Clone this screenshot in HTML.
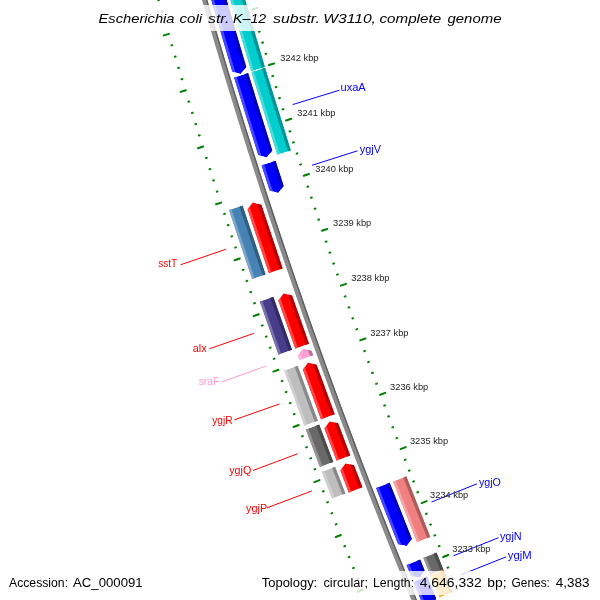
<!DOCTYPE html>
<html><head><meta charset="utf-8"><style>
html,body{margin:0;padding:0;background:#fff;width:600px;height:600px;overflow:hidden}
svg{display:block;will-change:transform;font-family:"Liberation Sans",sans-serif}
</style></head><body>
<svg width="600" height="600" viewBox="0 0 600 600">
<defs><clipPath id="c0"><polygon points="199.58,-40.03 232.14,71.39 240.67,74.02 246.30,67.10 213.83,-44.03"/></clipPath><clipPath id="c1"><polygon points="233.97,77.41 258.19,155.03 266.76,157.53 272.29,150.53 248.13,73.10"/></clipPath><clipPath id="c2"><polygon points="261.48,165.31 269.65,190.49 278.24,192.93 283.72,185.89 275.57,160.77"/></clipPath><clipPath id="c3"><polygon points="375.94,488.00 398.11,544.22 406.83,546.10 411.85,538.72 389.74,482.64"/></clipPath><clipPath id="c4"><polygon points="406.50,565.07 410.94,576.00 419.67,577.82 424.64,570.41 420.22,559.52"/></clipPath><clipPath id="c5"><polygon points="413.31,581.82 422.58,604.37 431.33,606.15 436.26,598.71 427.02,576.23"/></clipPath><clipPath id="c6"><polygon points="217.10,-44.96 251.12,71.26 264.90,67.06 230.96,-48.86"/></clipPath><clipPath id="c7"><polygon points="251.35,72.02 277.23,154.80 290.94,150.40 265.13,67.83"/></clipPath><clipPath id="c8"><polygon points="392.94,481.51 416.97,542.36 430.33,536.99 406.37,476.29"/></clipPath><clipPath id="c9"><polygon points="423.19,557.78 430.13,574.85 443.46,569.40 436.53,552.38"/></clipPath><clipPath id="c10"><polygon points="430.31,575.31 439.40,597.42 452.71,591.91 443.64,569.86"/></clipPath><clipPath id="c11"><polygon points="268.84,273.21 247.43,209.37 252.84,202.31 261.39,204.77 282.75,268.46"/></clipPath><clipPath id="c12"><polygon points="295.22,348.72 278.22,300.45 283.52,293.30 292.11,295.62 309.07,343.78"/></clipPath><clipPath id="c13"><polygon points="299.39,360.34 297.69,355.62 302.92,348.42 311.53,350.66 313.22,355.37"/></clipPath><clipPath id="c14"><polygon points="321.00,419.44 302.79,369.78 308.00,362.57 316.62,364.79 334.78,414.32"/></clipPath><clipPath id="c15"><polygon points="336.55,460.77 324.37,428.47 329.50,421.20 338.14,423.32 350.29,455.54"/></clipPath><clipPath id="c16"><polygon points="348.78,492.63 340.27,470.52 345.34,463.22 354.00,465.27 362.48,487.32"/></clipPath><clipPath id="c17"><polygon points="228.92,210.05 252.03,279.07 265.65,274.41 242.60,205.56"/></clipPath><clipPath id="c18"><polygon points="259.75,301.53 278.46,354.71 292.02,349.87 273.36,296.82"/></clipPath><clipPath id="c19"><polygon points="284.14,370.53 304.39,425.83 317.88,420.81 297.69,365.65"/></clipPath><clipPath id="c20"><polygon points="305.72,429.42 319.91,467.10 333.37,461.98 319.21,424.39"/></clipPath><clipPath id="c21"><polygon points="321.70,471.80 332.03,498.68 345.46,493.48 335.16,466.67"/></clipPath></defs>
<g stroke="#008000" stroke-width="2" stroke-linecap="round"><line x1="159.15" y1="-0.10" x2="158.28" y2="0.15"/><line x1="162.40" y1="11.22" x2="161.54" y2="11.47"/><line x1="249.03" y1="-1.71" x2="249.89" y2="-1.96"/><line x1="165.68" y1="22.54" x2="164.82" y2="22.79"/><line x1="252.28" y1="9.43" x2="257.56" y2="7.89"/><line x1="168.98" y1="33.84" x2="163.71" y2="35.39"/><line x1="255.56" y1="20.56" x2="256.42" y2="20.31"/><line x1="172.31" y1="45.14" x2="171.44" y2="45.40"/><line x1="258.85" y1="31.69" x2="259.71" y2="31.43"/><line x1="175.65" y1="56.43" x2="174.79" y2="56.69"/><line x1="262.17" y1="42.81" x2="263.03" y2="42.55"/><line x1="179.02" y1="67.72" x2="178.16" y2="67.98"/><line x1="265.51" y1="53.92" x2="266.37" y2="53.66"/><line x1="182.41" y1="79.00" x2="181.55" y2="79.26"/><line x1="268.88" y1="65.02" x2="274.14" y2="63.42"/><line x1="185.83" y1="90.27" x2="180.57" y2="91.87"/><line x1="272.26" y1="76.12" x2="273.12" y2="75.86"/><line x1="189.27" y1="101.54" x2="188.41" y2="101.80"/><line x1="275.67" y1="87.21" x2="276.53" y2="86.95"/><line x1="192.73" y1="112.80" x2="191.87" y2="113.06"/><line x1="279.10" y1="98.30" x2="279.96" y2="98.03"/><line x1="196.21" y1="124.05" x2="195.35" y2="124.31"/><line x1="282.55" y1="109.38" x2="283.41" y2="109.11"/><line x1="199.71" y1="135.29" x2="198.85" y2="135.56"/><line x1="286.03" y1="120.45" x2="291.28" y2="118.79"/><line x1="203.24" y1="146.53" x2="198.00" y2="148.18"/><line x1="289.53" y1="131.51" x2="290.39" y2="131.24"/><line x1="206.79" y1="157.76" x2="205.93" y2="158.03"/><line x1="293.05" y1="142.57" x2="293.91" y2="142.29"/><line x1="210.37" y1="168.98" x2="209.51" y2="169.26"/><line x1="296.59" y1="153.62" x2="297.45" y2="153.34"/><line x1="213.96" y1="180.20" x2="213.10" y2="180.47"/><line x1="300.15" y1="164.66" x2="301.01" y2="164.38"/><line x1="217.58" y1="191.41" x2="216.72" y2="191.68"/><line x1="303.74" y1="175.69" x2="308.97" y2="173.99"/><line x1="221.22" y1="202.61" x2="215.99" y2="204.31"/><line x1="307.35" y1="186.72" x2="308.21" y2="186.44"/><line x1="224.88" y1="213.80" x2="224.03" y2="214.08"/><line x1="310.98" y1="197.74" x2="311.84" y2="197.46"/><line x1="228.57" y1="224.99" x2="227.71" y2="225.27"/><line x1="314.64" y1="208.75" x2="315.49" y2="208.47"/><line x1="232.28" y1="236.17" x2="231.42" y2="236.45"/><line x1="318.31" y1="219.76" x2="319.16" y2="219.47"/><line x1="236.01" y1="247.34" x2="235.16" y2="247.62"/><line x1="322.01" y1="230.76" x2="327.22" y2="229.00"/><line x1="239.76" y1="258.50" x2="234.55" y2="260.26"/><line x1="325.73" y1="241.75" x2="326.58" y2="241.46"/><line x1="243.54" y1="269.66" x2="242.69" y2="269.95"/><line x1="329.47" y1="252.73" x2="330.32" y2="252.44"/><line x1="247.34" y1="280.81" x2="246.48" y2="281.10"/><line x1="333.23" y1="263.71" x2="334.09" y2="263.41"/><line x1="251.16" y1="291.95" x2="250.31" y2="292.24"/><line x1="337.02" y1="274.67" x2="337.87" y2="274.38"/><line x1="255.00" y1="303.08" x2="254.15" y2="303.38"/><line x1="340.83" y1="285.64" x2="346.02" y2="283.82"/><line x1="258.87" y1="314.21" x2="253.67" y2="316.02"/><line x1="344.66" y1="296.59" x2="345.51" y2="296.29"/><line x1="262.75" y1="325.32" x2="261.91" y2="325.62"/><line x1="348.51" y1="307.53" x2="349.36" y2="307.23"/><line x1="266.66" y1="336.43" x2="265.82" y2="336.73"/><line x1="352.39" y1="318.47" x2="353.23" y2="318.17"/><line x1="270.60" y1="347.54" x2="269.75" y2="347.84"/><line x1="356.28" y1="329.40" x2="357.13" y2="329.10"/><line x1="274.55" y1="358.63" x2="273.71" y2="358.93"/><line x1="360.20" y1="340.32" x2="365.38" y2="338.46"/><line x1="278.53" y1="369.72" x2="273.36" y2="371.58"/><line x1="364.14" y1="351.23" x2="364.99" y2="350.93"/><line x1="282.53" y1="380.79" x2="281.68" y2="381.10"/><line x1="368.10" y1="362.14" x2="368.95" y2="361.83"/><line x1="286.55" y1="391.86" x2="285.71" y2="392.17"/><line x1="372.09" y1="373.04" x2="372.93" y2="372.73"/><line x1="290.60" y1="402.93" x2="289.75" y2="403.24"/><line x1="376.10" y1="383.93" x2="376.94" y2="383.62"/><line x1="294.66" y1="413.98" x2="293.82" y2="414.29"/><line x1="380.12" y1="394.81" x2="385.28" y2="392.89"/><line x1="298.75" y1="425.03" x2="293.60" y2="426.94"/><line x1="384.17" y1="405.68" x2="385.02" y2="405.37"/><line x1="302.86" y1="436.06" x2="302.02" y2="436.38"/><line x1="388.25" y1="416.55" x2="389.09" y2="416.23"/><line x1="307.00" y1="447.09" x2="306.15" y2="447.41"/><line x1="392.34" y1="427.40" x2="393.18" y2="427.09"/><line x1="311.15" y1="458.11" x2="310.31" y2="458.43"/><line x1="396.46" y1="438.25" x2="397.30" y2="437.93"/><line x1="315.33" y1="469.12" x2="314.49" y2="469.44"/><line x1="400.59" y1="449.09" x2="405.73" y2="447.13"/><line x1="319.53" y1="480.13" x2="314.39" y2="482.09"/><line x1="404.75" y1="459.93" x2="405.59" y2="459.60"/><line x1="323.75" y1="491.12" x2="322.91" y2="491.45"/><line x1="408.93" y1="470.75" x2="409.77" y2="470.42"/><line x1="328.00" y1="502.11" x2="327.16" y2="502.43"/><line x1="413.14" y1="481.56" x2="413.98" y2="481.24"/><line x1="332.26" y1="513.09" x2="331.43" y2="513.41"/><line x1="417.36" y1="492.37" x2="418.20" y2="492.04"/><line x1="336.55" y1="524.06" x2="335.71" y2="524.39"/><line x1="421.61" y1="503.17" x2="426.73" y2="501.15"/><line x1="340.86" y1="535.02" x2="335.75" y2="537.04"/><line x1="425.88" y1="513.96" x2="426.71" y2="513.63"/><line x1="345.20" y1="545.97" x2="344.36" y2="546.30"/><line x1="430.17" y1="524.74" x2="431.00" y2="524.41"/><line x1="349.55" y1="556.91" x2="348.71" y2="557.25"/><line x1="434.48" y1="535.51" x2="435.31" y2="535.18"/><line x1="353.93" y1="567.85" x2="353.09" y2="568.18"/><line x1="438.81" y1="546.28" x2="439.65" y2="545.94"/><line x1="358.33" y1="578.77" x2="357.49" y2="579.11"/><line x1="443.17" y1="557.03" x2="448.26" y2="554.96"/><line x1="362.75" y1="589.69" x2="357.65" y2="591.76"/><line x1="447.54" y1="567.78" x2="448.38" y2="567.44"/><line x1="451.94" y1="578.51" x2="452.78" y2="578.17"/><line x1="456.36" y1="589.24" x2="457.19" y2="588.90"/></g>
<polygon points="188.50,-47.30 191.07,-38.16 193.65,-29.02 196.24,-19.88 198.85,-10.75 201.48,-1.62 204.12,7.51 206.77,16.62 209.44,25.74 212.12,34.85 214.82,43.96 217.54,53.06 220.26,62.16 223.01,71.25 225.77,80.34 228.54,89.42 231.33,98.50 234.13,107.58 236.95,116.65 239.78,125.71 242.63,134.77 245.49,143.83 248.37,152.88 251.26,161.93 254.17,170.97 257.09,180.01 260.03,189.04 262.98,198.07 265.94,207.09 268.92,216.11 271.92,225.12 274.93,234.13 277.95,243.13 280.99,252.13 284.05,261.13 287.12,270.11 290.20,279.10 293.30,288.08 296.41,297.05 299.54,306.02 302.68,314.98 305.84,323.94 309.01,332.89 312.20,341.84 315.40,350.78 318.61,359.72 321.84,368.65 325.09,377.58 328.35,386.50 331.62,395.41 334.91,404.32 338.21,413.23 341.53,422.13 344.86,431.02 348.21,439.91 351.57,448.79 354.95,457.67 358.34,466.54 361.74,475.41 365.16,484.27 368.60,493.13 372.05,501.98 375.51,510.82 378.99,519.66 382.48,528.49 385.98,537.32 389.51,546.14 393.04,554.96 396.59,563.77 400.15,572.57 403.73,581.37 407.32,590.16 410.93,598.95 414.55,607.73 418.19,616.50 421.84,625.27 425.50,634.03 429.18,642.79 432.88,651.54 436.58,660.28 441.37,658.25 437.66,649.51 433.98,640.77 430.30,632.02 426.64,623.27 422.99,614.51 419.36,605.74 415.74,596.97 412.14,588.19 408.55,579.40 404.97,570.61 401.41,561.82 397.87,553.02 394.33,544.21 390.82,535.40 387.31,526.58 383.82,517.75 380.35,508.92 376.89,500.09 373.44,491.24 370.01,482.40 366.60,473.54 363.20,464.68 359.81,455.82 356.44,446.95 353.08,438.07 349.73,429.19 346.40,420.31 343.09,411.42 339.79,402.52 336.50,393.62 333.23,384.71 329.98,375.80 326.73,366.88 323.51,357.95 320.29,349.02 317.10,340.09 313.91,331.15 310.74,322.21 307.59,313.26 304.45,304.30 301.32,295.34 298.21,286.38 295.12,277.41 292.04,268.43 288.97,259.45 285.92,250.46 282.88,241.47 279.86,232.48 276.85,223.48 273.86,214.47 270.88,205.46 267.92,196.45 264.97,187.43 262.04,178.40 259.12,169.38 256.21,160.34 253.32,151.30 250.45,142.26 247.59,133.21 244.74,124.16 241.91,115.10 239.10,106.04 236.30,96.97 233.51,87.90 230.74,78.82 227.99,69.74 225.24,60.66 222.52,51.57 219.81,42.48 217.11,33.38 214.43,24.27 211.76,15.17 209.11,6.06 206.47,-3.06 203.85,-12.18 201.24,-21.30 198.65,-30.43 196.07,-39.56 193.51,-48.70" fill="#8a8a8a"/>
<polygon points="192.26,-48.35 194.82,-39.21 197.40,-30.08 199.99,-20.95 202.60,-11.82 205.22,-2.70 207.86,6.42 210.51,15.53 213.18,24.64 215.86,33.75 218.56,42.85 221.27,51.94 224.00,61.03 226.74,70.12 229.50,79.20 232.27,88.28 235.06,97.35 237.86,106.42 240.67,115.49 243.50,124.55 246.35,133.60 249.21,142.65 252.09,151.70 254.98,160.74 257.88,169.77 260.80,178.81 263.73,187.83 266.68,196.85 269.65,205.87 272.63,214.88 275.62,223.89 278.63,232.89 281.65,241.89 284.69,250.88 287.74,259.87 290.81,268.85 293.89,277.83 296.98,286.80 300.10,295.77 303.22,304.73 306.36,313.69 309.52,322.64 312.69,331.59 315.87,340.53 319.07,349.46 322.28,358.39 325.51,367.32 328.75,376.24 332.01,385.16 335.28,394.07 338.57,402.97 341.87,411.87 345.19,420.76 348.52,429.65 351.86,438.53 355.22,447.41 358.59,456.28 361.98,465.15 365.38,474.01 368.80,482.86 372.23,491.71 375.68,500.56 379.14,509.40 382.61,518.23 386.10,527.06 389.61,535.88 393.13,544.69 396.66,553.50 400.21,562.31 403.77,571.10 407.34,579.90 410.93,588.68 414.54,597.46 418.16,606.24 421.79,615.01 425.44,623.77 429.10,632.52 432.78,641.28 436.47,650.02 440.17,658.76 441.37,658.25 437.66,649.51 433.98,640.77 430.30,632.02 426.64,623.27 422.99,614.51 419.36,605.74 415.74,596.97 412.14,588.19 408.55,579.40 404.97,570.61 401.41,561.82 397.87,553.02 394.33,544.21 390.82,535.40 387.31,526.58 383.82,517.75 380.35,508.92 376.89,500.09 373.44,491.24 370.01,482.40 366.60,473.54 363.20,464.68 359.81,455.82 356.44,446.95 353.08,438.07 349.73,429.19 346.40,420.31 343.09,411.42 339.79,402.52 336.50,393.62 333.23,384.71 329.98,375.80 326.73,366.88 323.51,357.95 320.29,349.02 317.10,340.09 313.91,331.15 310.74,322.21 307.59,313.26 304.45,304.30 301.32,295.34 298.21,286.38 295.12,277.41 292.04,268.43 288.97,259.45 285.92,250.46 282.88,241.47 279.86,232.48 276.85,223.48 273.86,214.47 270.88,205.46 267.92,196.45 264.97,187.43 262.04,178.40 259.12,169.38 256.21,160.34 253.32,151.30 250.45,142.26 247.59,133.21 244.74,124.16 241.91,115.10 239.10,106.04 236.30,96.97 233.51,87.90 230.74,78.82 227.99,69.74 225.24,60.66 222.52,51.57 219.81,42.48 217.11,33.38 214.43,24.27 211.76,15.17 209.11,6.06 206.47,-3.06 203.85,-12.18 201.24,-21.30 198.65,-30.43 196.07,-39.56 193.51,-48.70" fill="#5c5c5c"/>
<g clip-path="url(#c0)"><polygon points="199.58,-40.03 232.14,71.39 240.67,74.02 246.30,67.10 213.83,-44.03" fill="#0000ff"/><polygon points="198.35,-40.72 232.93,77.42 236.56,76.31 202.00,-41.75" fill="#4747ff"/><polygon points="210.38,-44.10 244.88,73.78 249.00,72.53 214.52,-45.26" fill="#0000b8"/></g>
<g clip-path="url(#c1)"><polygon points="233.97,77.41 258.19,155.03 266.76,157.53 272.29,150.53 248.13,73.10" fill="#0000ff"/><polygon points="232.72,76.75 259.07,161.05 262.68,159.89 236.36,75.64" fill="#4747ff"/><polygon points="244.68,73.11 270.97,157.23 275.06,155.92 248.80,71.86" fill="#0000b8"/></g>
<g clip-path="url(#c2)"><polygon points="261.48,165.31 269.65,190.49 278.24,192.93 283.72,185.89 275.57,160.77" fill="#0000ff"/><polygon points="260.23,164.66 270.57,196.50 274.18,195.31 263.84,163.50" fill="#4747ff"/><polygon points="272.13,160.84 282.44,192.60 286.53,191.26 276.22,159.52" fill="#0000b8"/></g>
<g clip-path="url(#c3)"><polygon points="375.94,488.00 398.11,544.22 406.83,546.10 411.85,538.72 389.74,482.64" fill="#0000ff"/><polygon points="374.65,487.43 399.41,550.16 402.94,548.74 378.19,486.06" fill="#4747ff"/><polygon points="386.30,482.91 411.01,545.50 415.00,543.90 390.31,481.35" fill="#0000b8"/></g>
<g clip-path="url(#c4)"><polygon points="406.50,565.07 410.94,576.00 419.67,577.82 424.64,570.41 420.22,559.52" fill="#0000ff"/><polygon points="405.20,564.52 412.28,581.92 415.79,580.49 408.72,563.10" fill="#4747ff"/><polygon points="416.79,559.83 423.85,577.20 427.83,575.57 420.77,558.22" fill="#0000b8"/></g>
<g clip-path="url(#c5)"><polygon points="413.31,581.82 422.58,604.37 431.33,606.15 436.26,598.71 427.02,576.23" fill="#0000ff"/><polygon points="412.01,581.28 423.95,610.29 427.46,608.83 415.53,579.84" fill="#4747ff"/><polygon points="423.58,576.55 435.49,605.50 439.47,603.85 427.56,574.93" fill="#0000b8"/></g>
<g clip-path="url(#c6)"><polygon points="217.10,-44.96 251.12,71.26 264.90,67.06 230.96,-48.86" fill="#00cdcd"/><polygon points="215.87,-45.64 250.45,72.50 254.09,71.39 219.53,-46.67" fill="#47dbdb"/><polygon points="227.52,-48.92 262.03,68.98 266.14,67.72 231.65,-50.08" fill="#009494"/></g>
<g clip-path="url(#c7)"><polygon points="251.35,72.02 277.23,154.80 290.94,150.40 265.13,67.83" fill="#00cdcd"/><polygon points="250.11,71.36 276.58,156.06 280.20,154.90 253.74,70.25" fill="#47dbdb"/><polygon points="261.68,67.83 288.10,152.36 292.19,151.04 265.80,66.58" fill="#009494"/></g>
<g clip-path="url(#c8)"><polygon points="392.94,481.51 416.97,542.36 430.33,536.99 406.37,476.29" fill="#f08080"/><polygon points="391.65,480.94 416.41,543.66 419.94,542.24 395.19,479.56" fill="#f4a4a4"/><polygon points="402.93,476.56 427.64,539.15 431.63,537.54 406.94,475.01" fill="#ad5c5c"/></g>
<g clip-path="url(#c9)"><polygon points="423.19,557.78 430.13,574.85 443.46,569.40 436.53,552.38" fill="#696969"/><polygon points="421.89,557.23 429.58,576.15 433.09,574.71 425.41,555.81" fill="#939393"/><polygon points="433.10,552.70 440.78,571.57 444.76,569.94 437.09,551.08" fill="#4c4c4c"/></g>
<g clip-path="url(#c10)"><polygon points="430.31,575.31 439.40,597.42 452.71,591.91 443.64,569.86" fill="#ffa500"/><polygon points="429.01,574.77 438.85,598.72 442.37,597.27 432.53,573.33" fill="#ffbe47"/><polygon points="440.21,570.19 450.04,594.09 454.01,592.45 444.19,568.57" fill="#b87700"/></g>
<g clip-path="url(#c11)"><polygon points="268.84,273.21 247.43,209.37 252.84,202.31 261.39,204.77 282.75,268.46" fill="#ff0000"/><polygon points="244.60,203.96 268.21,274.49 271.81,273.26 248.21,202.77" fill="#ff4747"/><polygon points="256.38,200.09 279.95,270.47 284.02,269.08 260.47,198.76" fill="#b80000"/></g>
<g clip-path="url(#c12)"><polygon points="295.22,348.72 278.22,300.45 283.52,293.30 292.11,295.62 309.07,343.78" fill="#ff0000"/><polygon points="275.30,295.08 294.62,350.00 298.20,348.72 278.89,293.84" fill="#ff4747"/><polygon points="287.02,291.03 306.30,345.83 310.35,344.38 291.08,289.62" fill="#b80000"/></g>
<g clip-path="url(#c13)"><polygon points="299.39,360.34 297.69,355.62 302.92,348.42 311.53,350.66 313.22,355.37" fill="#ffa0d2"/><polygon points="294.72,350.29 298.79,361.63 302.36,360.34 298.30,349.01" fill="#ffbbdf"/><polygon points="306.40,346.11 310.46,357.43 314.50,355.97 310.45,344.67" fill="#b87397"/></g>
<g clip-path="url(#c14)"><polygon points="321.00,419.44 302.79,369.78 308.00,362.57 316.62,364.79 334.78,414.32" fill="#ff0000"/><polygon points="299.81,364.46 320.41,420.73 323.97,419.40 303.38,363.17" fill="#ff4747"/><polygon points="311.47,360.25 332.03,416.41 336.07,414.91 315.52,358.80" fill="#b80000"/></g>
<g clip-path="url(#c15)"><polygon points="336.55,460.77 324.37,428.47 329.50,421.20 338.14,423.32 350.29,455.54" fill="#ff0000"/><polygon points="321.32,423.18 335.97,462.07 339.52,460.71 324.88,421.85" fill="#ff4747"/><polygon points="332.94,418.85 347.56,457.65 351.58,456.12 336.97,417.35" fill="#b80000"/></g>
<g clip-path="url(#c16)"><polygon points="348.78,492.63 340.27,470.52 345.34,463.22 354.00,465.27 362.48,487.32" fill="#ff0000"/><polygon points="337.18,465.25 348.21,493.92 351.75,492.55 340.74,463.90" fill="#ff4747"/><polygon points="348.77,460.84 359.77,489.45 363.78,487.89 352.79,459.30" fill="#b80000"/></g>
<g clip-path="url(#c17)"><polygon points="228.92,210.05 252.03,279.07 265.65,274.41 242.60,205.56" fill="#4682b4"/><polygon points="227.65,209.41 251.40,280.34 255.00,279.11 231.26,208.22" fill="#7aa5c9"/><polygon points="239.15,205.64 262.85,276.43 266.92,275.03 243.24,204.30" fill="#325e82"/></g>
<g clip-path="url(#c18)"><polygon points="259.75,301.53 278.46,354.71 292.02,349.87 273.36,296.82" fill="#483d8b"/><polygon points="258.48,300.91 277.86,355.99 281.44,354.72 262.07,299.66" fill="#7b73ab"/><polygon points="269.91,296.95 289.25,351.92 293.30,350.47 273.98,295.54" fill="#342c64"/></g>
<g clip-path="url(#c19)"><polygon points="284.14,370.53 304.39,425.83 317.88,420.81 297.69,365.65" fill="#bebebe"/><polygon points="282.86,369.92 303.80,427.12 307.36,425.80 286.43,368.64" fill="#d0d0d0"/><polygon points="294.24,365.82 315.14,422.91 319.17,421.41 298.29,364.37" fill="#898989"/></g>
<g clip-path="url(#c20)"><polygon points="305.72,429.42 319.91,467.10 333.37,461.98 319.21,424.39" fill="#696969"/><polygon points="304.43,428.82 319.33,468.40 322.89,467.05 307.99,427.50" fill="#939393"/><polygon points="315.77,424.60 330.64,464.09 334.66,462.56 319.80,423.10" fill="#4c4c4c"/></g>
<g clip-path="url(#c21)"><polygon points="321.70,471.80 332.03,498.68 345.46,493.48 335.16,466.67" fill="#bebebe"/><polygon points="320.41,471.22 331.46,499.98 335.01,498.61 323.96,469.87" fill="#d0d0d0"/><polygon points="331.72,466.91 342.74,495.61 346.75,494.06 335.73,465.38" fill="#898989"/></g>
<line x1="292.6" y1="104.6" x2="339.5" y2="90.2" stroke="#0000ff" stroke-width="1"/>
<line x1="312" y1="165.3" x2="357.5" y2="150.8" stroke="#0000ff" stroke-width="1"/>
<line x1="431.5" y1="502" x2="477" y2="483.8" stroke="#0000ff" stroke-width="1"/>
<line x1="453.7" y1="555.7" x2="498.5" y2="537.7" stroke="#0000ff" stroke-width="1"/>
<line x1="461.1" y1="574.8" x2="506.2" y2="556.8" stroke="#0000ff" stroke-width="1"/>
<line x1="180.5" y1="264.8" x2="225.9" y2="249.3" stroke="#ff0000" stroke-width="1"/>
<line x1="209.3" y1="348.8" x2="254.1" y2="333.3" stroke="#ff0000" stroke-width="1"/>
<line x1="221.3" y1="382.1" x2="265.9" y2="366.1" stroke="#ff99cc" stroke-width="1"/>
<line x1="234.3" y1="419.9" x2="279.4" y2="404" stroke="#ff0000" stroke-width="1"/>
<line x1="253" y1="470.5" x2="297.8" y2="453.7" stroke="#ff0000" stroke-width="1"/>
<line x1="267" y1="507.8" x2="311.8" y2="491" stroke="#ff0000" stroke-width="1"/>
<text transform="translate(280.25,61.00) scale(1.0,1)" font-size="8.8" fill="#222" textLength="38.25" lengthAdjust="spacingAndGlyphs">3242 kbp</text>
<text transform="translate(297.25,115.80) scale(1.0,1)" font-size="8.8" fill="#222" textLength="38.25" lengthAdjust="spacingAndGlyphs">3241 kbp</text>
<text transform="translate(315.25,171.80) scale(1.0,1)" font-size="8.8" fill="#222" textLength="38.25" lengthAdjust="spacingAndGlyphs">3240 kbp</text>
<text transform="translate(333.05,225.70) scale(1.0,1)" font-size="8.8" fill="#222" textLength="38.25" lengthAdjust="spacingAndGlyphs">3239 kbp</text>
<text transform="translate(351.25,281.00) scale(1.0,1)" font-size="8.8" fill="#222" textLength="38.25" lengthAdjust="spacingAndGlyphs">3238 kbp</text>
<text transform="translate(370.25,336.00) scale(1.0,1)" font-size="8.8" fill="#222" textLength="38.25" lengthAdjust="spacingAndGlyphs">3237 kbp</text>
<text transform="translate(390.05,390.00) scale(1.0,1)" font-size="8.8" fill="#222" textLength="38.25" lengthAdjust="spacingAndGlyphs">3236 kbp</text>
<text transform="translate(409.95,443.70) scale(1.0,1)" font-size="8.8" fill="#222" textLength="38.25" lengthAdjust="spacingAndGlyphs">3235 kbp</text>
<text transform="translate(430.05,497.80) scale(1.0,1)" font-size="8.8" fill="#222" textLength="38.25" lengthAdjust="spacingAndGlyphs">3234 kbp</text>
<text transform="translate(452.25,551.50) scale(1.0,1)" font-size="8.8" fill="#222" textLength="38.25" lengthAdjust="spacingAndGlyphs">3233 kbp</text>
<text transform="translate(340.45,90.90) scale(1.0,1)" font-size="11" fill="#0000ff" textLength="25.33" lengthAdjust="spacingAndGlyphs">uxaA</text>
<text transform="translate(359.80,153.20) scale(1.0,1)" font-size="11" fill="#0000ff" textLength="21.16" lengthAdjust="spacingAndGlyphs">ygjV</text>
<text transform="translate(478.90,486.10) scale(1.0,1)" font-size="11" fill="#0000ff" textLength="22.01" lengthAdjust="spacingAndGlyphs">ygjO</text>
<text transform="translate(499.90,539.80) scale(1.0,1)" font-size="11" fill="#0000ff" textLength="21.75" lengthAdjust="spacingAndGlyphs">ygjN</text>
<text transform="translate(507.80,559.20) scale(1.0,1)" font-size="11" fill="#0000ff" textLength="23.90" lengthAdjust="spacingAndGlyphs">ygjM</text>
<text transform="translate(158.20,267.20) scale(1.0,1)" font-size="11" fill="#ff0000" textLength="18.88" lengthAdjust="spacingAndGlyphs">sstT</text>
<text transform="translate(192.80,352.00) scale(1.0,1)" font-size="11" fill="#ff0000" textLength="13.96" lengthAdjust="spacingAndGlyphs">alx</text>
<text transform="translate(198.70,384.80) scale(1.0,1)" font-size="11" fill="#ff99cc" textLength="20.50" lengthAdjust="spacingAndGlyphs">sraF</text>
<text transform="translate(212.20,423.80) scale(1.0,1)" font-size="11" fill="#ff0000" textLength="20.27" lengthAdjust="spacingAndGlyphs">ygjR</text>
<text transform="translate(229.20,474.00) scale(1.0,1)" font-size="11" fill="#ff0000" textLength="22.11" lengthAdjust="spacingAndGlyphs">ygjQ</text>
<text transform="translate(246.00,511.80) scale(1.0,1)" font-size="11" fill="#ff0000" textLength="21.15" lengthAdjust="spacingAndGlyphs">ygjP</text>
<rect x="0" y="5" width="600" height="26" fill="#fff" fill-opacity="0.8"/>
<text transform="translate(98.50,22.50) scale(1.0,1)" font-size="13.6" font-style="italic" fill="#000" textLength="76.02" lengthAdjust="spacingAndGlyphs">Escherichia</text>
<text transform="translate(179.50,22.50) scale(1.0,1)" font-size="13.6" font-style="italic" fill="#000" textLength="22.71" lengthAdjust="spacingAndGlyphs">coli</text>
<text transform="translate(208.00,22.50) scale(1.0,1)" font-size="13.6" font-style="italic" fill="#000" textLength="21.43" lengthAdjust="spacingAndGlyphs">str.</text>
<text transform="translate(233.00,22.50) scale(1.0,1)" font-size="13.6" font-style="italic" fill="#000" textLength="33.25" lengthAdjust="spacingAndGlyphs">K–12</text>
<text transform="translate(273.00,22.50) scale(1.0,1)" font-size="13.6" font-style="italic" fill="#000" textLength="46.96" lengthAdjust="spacingAndGlyphs">substr.</text>
<text transform="translate(323.25,22.50) scale(1.0,1)" font-size="13.6" font-style="italic" fill="#000" textLength="52.69" lengthAdjust="spacingAndGlyphs">W3110,</text>
<text transform="translate(379.50,22.50) scale(1.0,1)" font-size="13.6" font-style="italic" fill="#000" textLength="61.58" lengthAdjust="spacingAndGlyphs">complete</text>
<text transform="translate(447.50,22.50) scale(1.0,1)" font-size="13.6" font-style="italic" fill="#000" textLength="54.00" lengthAdjust="spacingAndGlyphs">genome</text>
<rect x="0" y="571" width="600" height="24" fill="#fff" fill-opacity="0.8"/>
<text transform="translate(9.00,586.80) scale(1.0,1)" font-size="12" fill="#000" textLength="59.06" lengthAdjust="spacingAndGlyphs">Accession:</text>
<text transform="translate(73.00,586.80) scale(1.0,1)" font-size="12" fill="#000" textLength="69.64" lengthAdjust="spacingAndGlyphs">AC_000091</text>
<text transform="translate(261.75,586.80) scale(1.0,1)" font-size="12" fill="#000" textLength="55.48" lengthAdjust="spacingAndGlyphs">Topology:</text>
<text transform="translate(323.50,586.80) scale(1.0,1)" font-size="12" fill="#000" textLength="44.58" lengthAdjust="spacingAndGlyphs">circular;</text>
<text transform="translate(373.00,586.80) scale(1.0,1)" font-size="12" fill="#000" textLength="41.10" lengthAdjust="spacingAndGlyphs">Length:</text>
<text transform="translate(419.75,586.80) scale(1.0,1)" font-size="12" fill="#000" textLength="61.89" lengthAdjust="spacingAndGlyphs">4,646,332</text>
<text transform="translate(487.25,586.80) scale(1.0,1)" font-size="12" fill="#000" textLength="19.32" lengthAdjust="spacingAndGlyphs">bp;</text>
<text transform="translate(511.50,586.80) scale(1.0,1)" font-size="12" fill="#000" textLength="38.43" lengthAdjust="spacingAndGlyphs">Genes:</text>
<text transform="translate(555.75,586.80) scale(1.0,1)" font-size="12" fill="#000" textLength="33.88" lengthAdjust="spacingAndGlyphs">4,383</text>
</svg></body></html>
